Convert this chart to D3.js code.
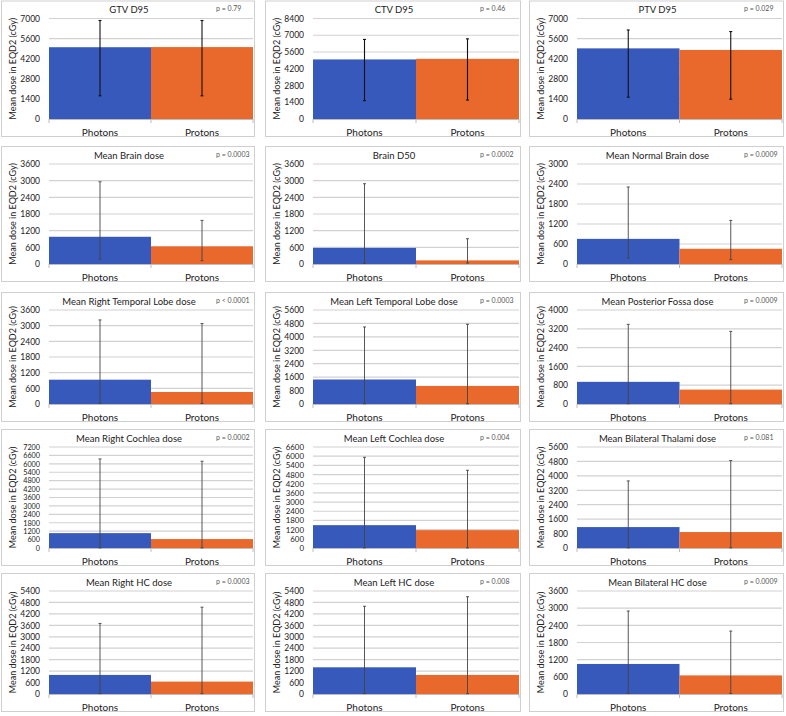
<!DOCTYPE html>
<html><head><meta charset="utf-8">
<script src="https://cdn.jsdelivr.net/npm/d3@7"></script>
<style>body{margin:0;background:#fff}svg{display:block}text{font-family:Lato,"Open Sans",sans-serif}</style>
</head><body>
<svg id="c" width="786" height="716"></svg>
<script>
const panelTitles = ["GTV D95","CTV D95","PTV D95","Mean Brain dose","Brain D50","Mean Normal Brain dose",
  "Mean Right Temporal Lobe dose","Mean Left Temporal Lobe dose","Mean Posterior Fossa dose",
  "Mean Right Cochlea dose","Mean Left Cochlea dose","Mean Bilateral Thalami dose",
  "Mean Right HC dose","Mean Left HC dose","Mean Bilateral HC dose"];
const pValues = ["p = 0.79","p = 0.46","p = 0.029","p = 0.0003","p = 0.0002","p = 0.0009",
  "p < 0.0001","p = 0.0003","p = 0.0009","p = 0.0002","p = 0.004","p = 0.081",
  "p = 0.0003","p = 0.008","p = 0.0009"];
const categories = ["Photons","Protons"];
const yTickMax  = [7000,8400,7000,3600,3600,3000,3600,5600,4000,7200,6600,5600,5400,5400,3600];
const yTickStep = [1400,1400,1400,600,600,600,600,800,800,600,600,800,600,600,600];
const photonMean    = [5000,4980,4920,980,580,754,930,1460,943,1060,1493,1160,1000,1400,1050];
const photonErrLow  = [1615,1530,1520,177,20,178,30,15,15,10,10,10,20,20,20];
const photonErrHigh = [6860,6650,6200,2960,2890,2310,3220,4590,3390,6350,5925,3720,3700,4600,2900];
const protonMean    = [5010,5030,4810,637,130,457,460,1077,613,635,1168,884,650,1000,650];
const protonErrLow  = [1615,1585,1380,120,35,131,20,15,15,10,10,10,20,20,20];
const protonErrHigh = [6860,6700,6090,1570,910,1307,3080,4750,3090,6185,5080,4850,4550,5100,2200];

const colFrames = [[1,255],[265,521],[529,784]];
const rowFrames = [[0.5,137],[146,282],[292,422],[429,566],[573,712]];
const barColors = ["#3759bc","#e8692b"];

const svg = d3.select("#c");

panelTitles.forEach((title, i) => {
  const [fx0, fx1] = colFrames[i % 3];
  const [fy0, fy1] = rowFrames[Math.floor(i / 3)];
  const g = svg.append("g");
  g.append("rect").attr("x", fx0 + 0.5).attr("y", fy0 + 0.5)
    .attr("width", fx1 - fx0 - 1).attr("height", fy1 - fy0 - 1)
    .attr("fill", "#fff").attr("stroke", "#cfcfcf").attr("stroke-width", 1);

  const px0 = fx0 + 48, px1 = fx1 - 2;
  const py0 = fy0 + 18, py1 = fy1 - 18;

  const x = d3.scaleBand().domain(categories).range([px0, px1]).padding(0);
  const y = d3.scaleLinear().domain([0, yTickMax[i]]).range([py1, py0]);
  const ticks = d3.range(0, yTickMax[i] + 1, yTickStep[i]);
  const spacing = (py1 - py0) / (ticks.length - 1);
  const tickFont = Math.min(8.5, spacing * 0.86);

  // gridlines
  g.append("g").selectAll("line").data(ticks.filter(t => t > 0)).join("line")
    .attr("x1", px0).attr("x2", px1).attr("y1", d => y(d)).attr("y2", d => y(d))
    .attr("stroke", "#d2d2d2").attr("stroke-width", 1.2);

  // y axis labels
  const ya = g.append("g").attr("transform", `translate(${px0},0)`)
    .call(d3.axisLeft(y).tickValues(ticks).tickSize(0).tickPadding(9).tickFormat(d3.format("d")));
  ya.select(".domain").remove();
  ya.selectAll("text").attr("font-size", tickFont).attr("fill", "#222").attr("font-family", "Lato");

  // bars
  const means = [photonMean[i], protonMean[i]];
  const lows = [photonErrLow[i], protonErrLow[i]];
  const highs = [photonErrHigh[i], protonErrHigh[i]];
  g.append("g").selectAll("rect").data(categories).join("rect")
    .attr("x", d => x(d)).attr("width", x.bandwidth())
    .attr("y", (d, j) => y(means[j])).attr("height", (d, j) => y(0) - y(means[j]))
    .attr("fill", (d, j) => barColors[j]);

  // x axis
  const xa = g.append("g").attr("transform", `translate(0,${py1})`)
    .call(d3.axisBottom(x).tickSize(0).tickPadding(0).tickFormat(""));
  xa.select(".domain").attr("stroke", "#bdbdbd").attr("stroke-width", 1).attr("d", `M${px0},0.5H${px1}`);
  xa.selectAll(".tick").remove();
  g.append("g").selectAll("line").data([px0, x("Protons"), px1]).join("line")
    .attr("x1", d => d).attr("x2", d => d).attr("y1", py1).attr("y2", py1 + 4)
    .attr("stroke", "#bdbdbd").attr("stroke-width", 1);
  g.append("g").selectAll("text").data(categories).join("text")
    .attr("x", d => x(d) + x.bandwidth() / 2).attr("y", py1 + 16.5)
    .attr("text-anchor", "middle").attr("font-size", 10).attr("fill", "#222").text(d => d);

  // error bars
  const eb = g.append("g").attr("stroke", i < 3 ? "#111" : "#444").attr("stroke-width", i < 3 ? 1.1 : 0.9);
  categories.forEach((c, j) => {
    const cx = x(c) + x.bandwidth() / 2;
    eb.append("line").attr("x1", cx).attr("x2", cx).attr("y1", y(lows[j])).attr("y2", y(highs[j]));
    eb.append("line").attr("x1", cx - 1.5).attr("x2", cx + 1.5).attr("y1", y(lows[j])).attr("y2", y(lows[j]));
    eb.append("line").attr("x1", cx - 1.5).attr("x2", cx + 1.5).attr("y1", y(highs[j])).attr("y2", y(highs[j]));
  });

  // titles
  g.append("text").attr("x", (fx0 + fx1) / 2 + 1).attr("y", fy0 + 12.5)
    .attr("text-anchor", "middle").attr("font-size", 9.5).attr("fill", "#222").text(title);
  g.append("text").attr("x", fx0 + 215).attr("y", fy0 + 10.5)
    .attr("font-size", 7).attr("fill", "#555").text(pValues[i]);
  g.append("text").attr("transform", `translate(${fx0 + 13},${(py0 + py1) / 2}) rotate(-90)`)
    .attr("text-anchor", "middle").attr("dominant-baseline", "middle")
    .attr("font-size", 9).attr("fill", "#222").text("Mean dose in EQD2 (cGy)");
});
</script>
</body></html>
